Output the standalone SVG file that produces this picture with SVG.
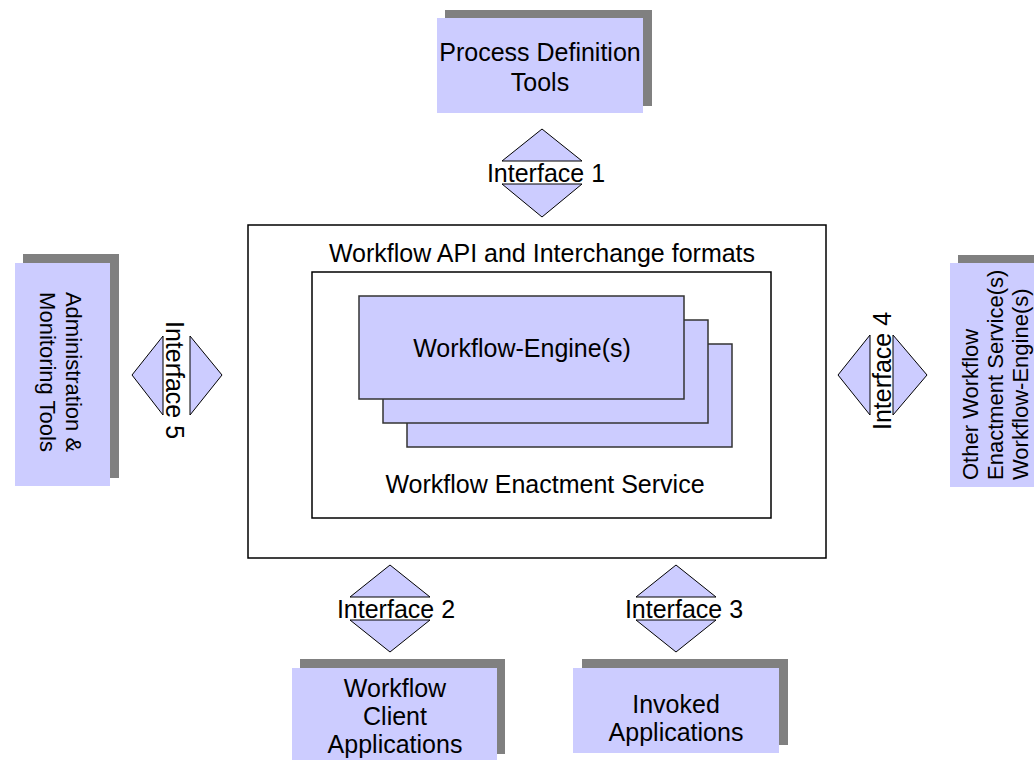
<svg xmlns="http://www.w3.org/2000/svg" width="1034" height="760" viewBox="0 0 1034 760">
<style>
text{font-family:"Liberation Sans",Arial,sans-serif;fill:#000;font-size:25px}
.m{text-anchor:middle}
.s{text-anchor:start}
.side{font-size:22px}
.shadow{fill:#808080}
.box{fill:#ccccff}
.frame{fill:#fff;stroke:#000;stroke-width:1.5}
.eng{fill:#ccccff;stroke:#333;stroke-width:1.5}
.tri{fill:#ccccff;stroke:#000;stroke-width:1}
</style>
<rect width="1034" height="760" fill="#fff"/>

<g id="enactment-service">
  <rect class="frame" x="248" y="225" width="578" height="333"/>
  <text class="m" x="542" y="262">Workflow API and Interchange formats</text>
  <rect class="frame" x="312" y="272" width="459" height="246"/>
  <rect class="eng" x="407" y="344" width="325" height="103"/>
  <rect class="eng" x="383" y="320" width="325" height="103"/>
  <rect class="eng" x="359" y="296" width="325" height="103"/>
  <text class="m" x="522" y="357">Workflow-Engine(s)</text>
  <text class="m" x="545" y="493">Workflow Enactment Service</text>
</g>

<g id="process-definition-tools">
  <rect class="shadow" x="445" y="10" width="207" height="96"/>
  <rect class="box" x="437" y="18" width="206" height="95"/>
  <text class="m" x="540" y="61">Process Definition</text>
  <text class="m" x="540" y="91">Tools</text>
</g>

<g id="administration-monitoring-tools">
  <rect class="shadow" x="23" y="254" width="96" height="224"/>
  <rect class="box" x="15" y="263" width="95" height="223"/>
  <text class="m side" transform="translate(66,372) rotate(90)">Administration &amp;</text>
  <text class="m side" transform="translate(40,372) rotate(90)">Monitoring Tools</text>
</g>

<g id="other-enactment-services">
  <rect class="shadow" x="958" y="255" width="90" height="224"/>
  <rect class="box" x="950" y="263" width="90" height="224"/>
  <text class="s side" transform="translate(978,480) rotate(-90)">Other Workflow</text>
  <text class="s side" transform="translate(1003,480) rotate(-90)">Enactment Service(s)</text>
  <text class="s side" transform="translate(1028,480) rotate(-90)">Workflow-Engine(s)</text>
</g>

<g id="workflow-client-applications">
  <rect class="shadow" x="300" y="659" width="205" height="95"/>
  <rect class="box" x="292" y="668" width="205" height="95"/>
  <text class="m" x="395" y="697">Workflow</text>
  <text class="m" x="395" y="725">Client</text>
  <text class="m" x="395" y="753">Applications</text>
</g>

<g id="invoked-applications">
  <rect class="shadow" x="582" y="659" width="206" height="86"/>
  <rect class="box" x="573" y="668" width="206" height="85"/>
  <text class="m" x="676" y="713">Invoked</text>
  <text class="m" x="676" y="741">Applications</text>
</g>

<g id="connectors">
  <g id="interface-1">
    <polygon class="tri" points="542,129 582,161 502,161"/>
    <polygon class="tri" points="502,184 582,184 542,217"/>
    <text class="m" x="546" y="182">Interface 1</text>
  </g>
  <g id="interface-2">
    <polygon class="tri" points="390,565 430,597 350,597"/>
    <polygon class="tri" points="350,620 430,620 390,652"/>
    <text class="m" x="396" y="618">Interface 2</text>
  </g>
  <g id="interface-3">
    <polygon class="tri" points="676,565 716,597 636,597"/>
    <polygon class="tri" points="636,620 716,620 676,652"/>
    <text class="m" x="684" y="618">Interface 3</text>
  </g>
  <g id="interface-4">
    <polygon class="tri" points="838,375 870,335 870,415"/>
    <polygon class="tri" points="893,335 927,375 893,415"/>
    <text class="m" transform="translate(891,371) rotate(-90)">Interface 4</text>
  </g>
  <g id="interface-5">
    <polygon class="tri" points="132,375 163,336 163,415"/>
    <polygon class="tri" points="190,336 222,375 190,415"/>
    <text class="m" transform="translate(166,380) rotate(90)">Interface 5</text>
  </g>
</g>
</svg>
